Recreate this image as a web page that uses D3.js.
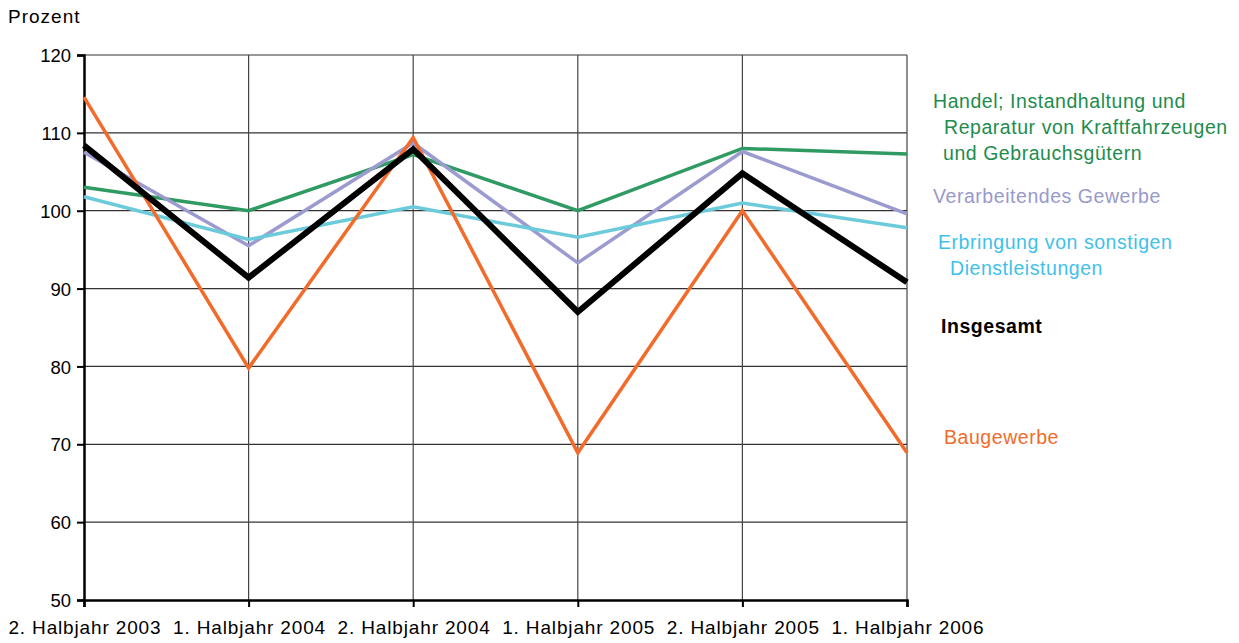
<!DOCTYPE html>
<html><head><meta charset="utf-8">
<script src="https://cdn.jsdelivr.net/npm/d3@7"></script>
<style>
body{margin:0;background:#fff;}
text{font-family:"Liberation Sans",Arial,sans-serif;}
</style></head>
<body><svg id="c" width="1239" height="643"></svg>
<script>
const categories = ["2. Halbjahr 2003","1. Halbjahr 2004","2. Halbjahr 2004","1. Halbjahr 2005","2. Halbjahr 2005","1. Halbjahr 2006"];
const handel = [103.0, 100.0, 107.2, 100.0, 108.0, 107.3];
const verarbeitend = [107.5, 95.5, 108.7, 93.3, 107.6, 99.6];
const erbringung = [101.8, 96.3, 100.5, 96.6, 101.0, 97.8];
const insgesamt = [108.4, 91.4, 107.9, 87.0, 104.8, 90.8];
const baugewerbe = [114.6, 79.8, 109.4, 68.9, 100.0, 68.9];
const yTicks = [50,60,70,80,90,100,110,120];

const series = [
  {name:"handel", values:handel, color:"#2f9a62", width:3.5},
  {name:"verarbeitend", values:verarbeitend, color:"#9c9bd0", width:3.5},
  {name:"erbringung", values:erbringung, color:"#6ccbdb", width:3.5},
  {name:"baugewerbe", values:baugewerbe, color:"#f26b2a", width:3.5},
  {name:"insgesamt", values:insgesamt, color:"#000000", width:6}
];

const svg = d3.select("#c");
const L=84, R=907, T=55, B=600;
const x = d3.scalePoint().domain(categories).range([L,R]);
const y = d3.scaleLinear().domain([50,120]).range([B,T]);

// grid
svg.append("g").selectAll("line").data(yTicks.filter(d=>d>50)).join("line")
  .attr("x1",L).attr("x2",R).attr("y1",d=>y(d)).attr("y2",d=>y(d))
  .attr("stroke","#333").attr("stroke-width",1.2);
svg.append("g").selectAll("line").data(categories.slice(1)).join("line")
  .attr("x1",d=>x(d)).attr("x2",d=>x(d)).attr("y1",T).attr("y2",B)
  .attr("stroke","#444").attr("stroke-width",1.2);

// axes
const yAxis = svg.append("g").attr("transform",`translate(${L},0)`)
  .call(d3.axisLeft(y).tickValues(yTicks).tickSize(7).tickPadding(6));
yAxis.select(".domain").attr("stroke","#000").attr("stroke-width",2.5);
yAxis.selectAll(".tick line").attr("stroke","#000").attr("stroke-width",2);
yAxis.selectAll("text").attr("font-size",18.5).attr("fill","#000")
  .attr("font-family","'Liberation Sans',Arial,sans-serif").attr("dy","0.36em");

const xAxis = svg.append("g").attr("transform",`translate(0,${B})`)
  .call(d3.axisBottom(x).tickSize(7).tickPadding(14));
xAxis.select(".domain").attr("stroke","#000").attr("stroke-width",2.5);
xAxis.selectAll(".tick line").attr("stroke","#000").attr("stroke-width",2);
xAxis.selectAll("text").attr("font-size",19).attr("fill","#000")
  .attr("letter-spacing","0.85px").attr("dx","0.4px")
  .attr("font-family","'Liberation Sans',Arial,sans-serif");

// lines
const line = d3.line().x((d,i)=>x(categories[i])).y(d=>y(d));
svg.append("g").selectAll("path").data(series).join("path")
  .attr("d",d=>line(d.values)).attr("fill","none")
  .attr("stroke",d=>d.color).attr("stroke-width",d=>d.width)
  .attr("stroke-linejoin","miter");

// title
svg.append("text").attr("x",8).attr("y",23).attr("font-size",19)
  .attr("letter-spacing","1px").text("Prozent");

// legend labels
const labels = [
  {t:"Handel; Instandhaltung und", x:933, y:108, c:"#1e8c4e"},
  {t:"Reparatur von Kraftfahrzeugen", x:944, y:134, c:"#1e8c4e"},
  {t:"und Gebrauchsgütern", x:943, y:160, c:"#1e8c4e"},
  {t:"Verarbeitendes Gewerbe", x:933, y:203, c:"#9999cc"},
  {t:"Erbringung von sonstigen", x:938, y:249, c:"#3fc1e9"},
  {t:"Dienstleistungen", x:950, y:275, c:"#3fc1e9"},
  {t:"Insgesamt", x:941, y:333, c:"#000", w:"bold"},
  {t:"Baugewerbe", x:944, y:444, c:"#f26b2a"}
];
svg.append("g").selectAll("text").data(labels).join("text")
  .attr("x",d=>d.x).attr("y",d=>d.y).attr("fill",d=>d.c)
  .attr("font-size",19.5).attr("letter-spacing","0.55px")
  .attr("font-weight",d=>d.w||"normal").text(d=>d.t);
</script></body></html>
